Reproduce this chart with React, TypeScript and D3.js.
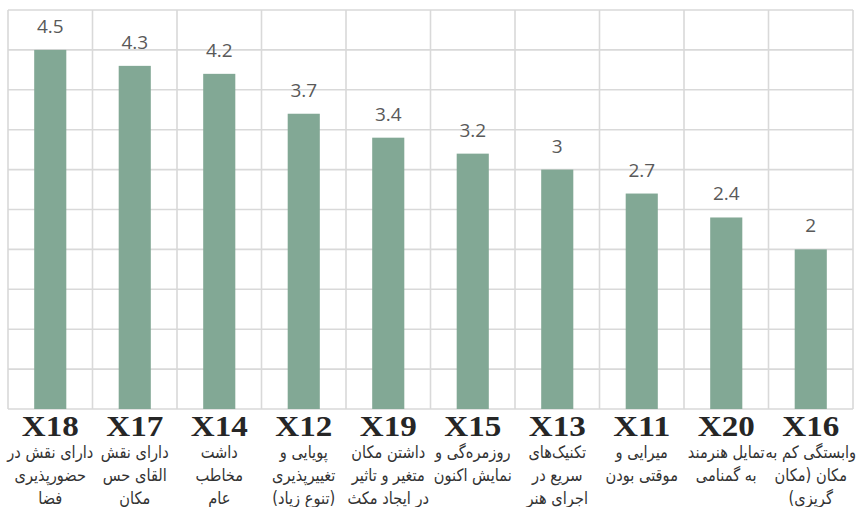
import React from "react";
import * as d3 from "d3";

const codes = ["X18", "X17", "X14", "X12", "X19", "X15", "X13", "X11", "X20", "X16"];
const values = [4.5, 4.3, 4.2, 3.7, 3.4, 3.2, 3, 2.7, 2.4, 2];
const valueLabels = ["4.5", "4.3", "4.2", "3.7", "3.4", "3.2", "3", "2.7", "2.4", "2"];
const descriptions: string[][] = [
  ["دارای نقش در", "حضورپذیری", "فضا"],
  ["دارای نقش", "القای حس", "مکان"],
  ["داشت", "مخاطب", "عام"],
  ["پویایی و", "تغییرپذیری", "(تنوع زیاد)"],
  ["داشتن مکان", "متغیر و تاثیر", "در ایجاد مکث"],
  ["روزمره‌گی و", "نمایش اکنون"],
  ["تکنیک‌های", "سریع در", "اجرای هنر"],
  ["میرایی و", "موقتی بودن"],
  ["تمایل هنرمند", "به گمنامی"],
  ["وابستگی کم به", "مکان (مکان", "گریزی)"],
];
const gridTicks = [0, 0.5, 1, 1.5, 2, 2.5, 3, 3.5, 4, 4.5, 5];

const W = 865;
const H = 507;
const left = 8;
const right = 853;
const top = 10;
const bottom = 409;

export default function App() {
  const x = d3.scaleBand<string>().domain(codes).range([left, right]).padding(0);
  const y = d3.scaleLinear().domain([0, 5]).range([bottom, top]);
  const bw = x.bandwidth();
  const barW = bw * 0.38;
  const gridColor = "#d9d9d9";
  const boundaries = codes.map((c) => x(c) as number).concat([right]);

  return (
    <svg
      width={W}
      height={H}
      style={{ position: "absolute", left: 0, top: 0, background: "#fff" }}
    >
      <g>
        {gridTicks.map((t) => (
          <line
            key={"h" + t}
            x1={left}
            x2={right}
            y1={y(t)}
            y2={y(t)}
            stroke={gridColor}
            strokeWidth={1.6}
          />
        ))}
        {boundaries.map((b, i) => (
          <line
            key={"v" + i}
            x1={b}
            x2={b}
            y1={top}
            y2={bottom}
            stroke={gridColor}
            strokeWidth={1.6}
          />
        ))}
      </g>
      <g>
        {codes.map((c, i) => {
          const cx = (x(c) as number) + bw / 2;
          return (
            <g key={c}>
              <rect
                x={cx - barW / 2}
                y={y(values[i])}
                width={barW}
                height={y(0) - y(values[i])}
                fill="#82a895"
              />
              <text
                x={cx}
                y={y(values[i]) - 17}
                textAnchor="middle"
                fontFamily="'Open Sans', sans-serif"
                fontSize={19}
                fill="#595959"
              >
                {valueLabels[i]}
              </text>
              <text
                x={cx}
                y={436}
                textAnchor="middle"
                fontFamily="'Liberation Serif', serif"
                fontWeight="bold"
                fontSize={29}
                fill="#262626"
                textLength={57}
                lengthAdjust="spacingAndGlyphs"
              >
                {c}
              </text>
              {descriptions[i].map((line, j) => (
                <text
                  key={j}
                  transform={`translate(${cx},${458 + j * 23}) scale(0.86,1)`}
                  textAnchor="middle"
                  direction="rtl"
                  fontFamily="'DejaVu Sans', sans-serif"
                  fontSize={17}
                  fill="#333"
                >
                  {line}
                </text>
              ))}
            </g>
          );
        })}
      </g>
    </svg>
  );
}
